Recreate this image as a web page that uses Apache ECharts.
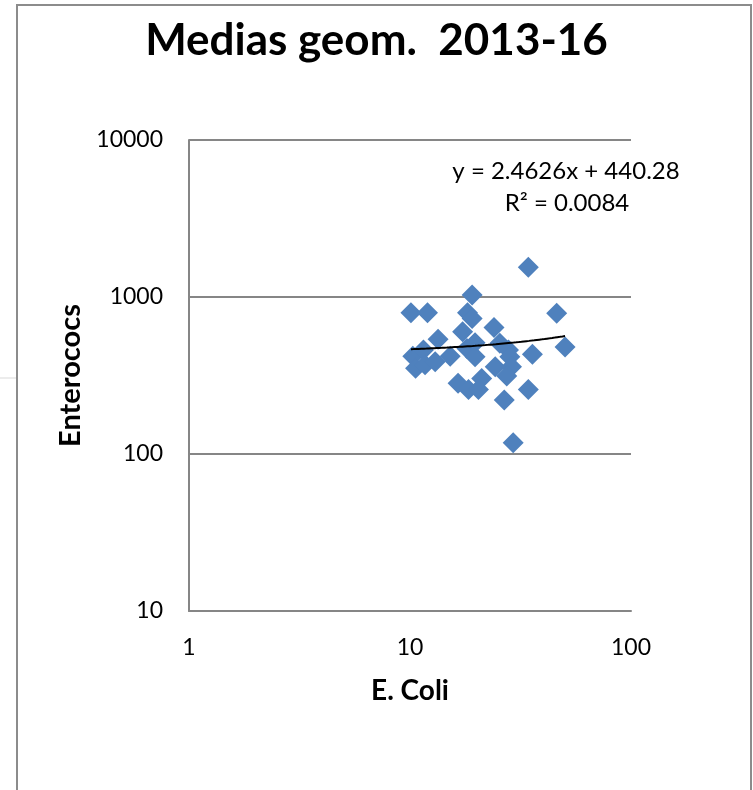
<!DOCTYPE html>
<html>
<head>
<meta charset="utf-8">
<script src="https://cdn.jsdelivr.net/npm/echarts@6/dist/echarts.min.js"></script>
<style>
  html, body { margin: 0; padding: 0; background: #ffffff; }
  #chart { width: 753px; height: 790px; }
</style>
</head>
<body>
<div id="chart"></div>
<script>
// Geometric means per site, 2013-16: E. coli (x) vs enterococci (y)
const eColi = [
  34.3, 19.1, 10.1, 12.0, 46.1, 18.2, 19.1, 17.3, 24.0, 13.4,
  50.3, 35.8, 10.3, 11.5, 10.6, 11.7, 13.0, 15.2, 18.1, 19.7,
  19.7, 25.5, 27.9, 28.3, 28.8, 24.3, 27.4, 21.1, 16.5, 18.4,
  20.4, 34.3, 26.7, 29.3
];
const enterococs = [
  1546, 1030, 795, 795, 787, 795, 730, 600, 640, 538,
  480, 432, 420, 460, 352, 370, 387, 420, 470, 512,
  417, 507, 459, 417, 360, 360, 314, 303, 282, 258,
  258, 258, 221, 118
];

// Linear trendline as reported: y = 2.4626x + 440.28, R² = 0.0084
const trendSlope = 2.4626;
const trendIntercept = 440.28;
const trendLabel = 'y = 2.4626x + 440.28';
const r2Label = 'R² = 0.0084';

const xTicks = [1, 10, 100];
const yTicks = [10, 100, 1000, 10000];

const FONT = 'Lato, "Open Sans", sans-serif';

const points = eColi.map((x, i) => [x, enterococs[i]]);

// Sample the straight trendline across the data's x-range (curved on log axes)
const xMin = Math.min(...eColi);
const xMax = Math.max(...eColi);
const trend = [];
const steps = 60;
for (let i = 0; i <= steps; i++) {
  const x = Math.pow(10, Math.log10(xMin) + (Math.log10(xMax) - Math.log10(xMin)) * i / steps);
  trend.push([x, trendSlope * x + trendIntercept]);
}

const chart = echarts.init(document.getElementById('chart'), null, { renderer: 'canvas' });

chart.setOption({
  backgroundColor: '#ffffff',
  animation: false,
  title: {
    text: 'Medias geom.  2013-16',
    left: 'center',
    top: 14,
    textStyle: { fontFamily: FONT, fontWeight: 'bold', fontSize: 44, color: '#000000' }
  },
  grid: { left: 189, top: 140, right: 122, bottom: 179, containLabel: false },
  xAxis: {
    type: 'log',
    logBase: 10,
    min: xTicks[0],
    max: xTicks[xTicks.length - 1],
    name: 'E. Coli',
    nameLocation: 'middle',
    nameGap: 66,
    nameTextStyle: { fontFamily: FONT, fontWeight: 'bold', fontSize: 28, color: '#000000' },
    axisLine: { show: true, lineStyle: { color: '#868686', width: 2 } },
    axisTick: { show: false },
    splitLine: { show: false },
    axisLabel: {
      margin: 25,
      fontFamily: FONT, fontSize: 23, color: '#000000',
      formatter: v => String(Math.round(v))
    }
  },
  yAxis: {
    type: 'log',
    logBase: 10,
    min: yTicks[0],
    max: yTicks[yTicks.length - 1],
    name: 'Enterococs',
    nameLocation: 'middle',
    nameGap: 103,
    nameRotate: 90,
    nameTextStyle: { fontFamily: FONT, fontWeight: 'bold', fontSize: 29, color: '#000000' },
    axisLine: { show: true, lineStyle: { color: '#868686', width: 2 } },
    axisTick: { show: false },
    splitLine: { show: true, lineStyle: { color: '#868686', width: 2 } },
    axisLabel: {
      margin: 26,
      fontFamily: FONT, fontSize: 23, color: '#000000',
      formatter: v => String(Math.round(v))
    }
  },
  series: [
    {
      type: 'scatter',
      data: points,
      symbol: 'diamond',
      symbolSize: 21,
      itemStyle: { color: '#4f81bd', opacity: 1 },
      z: 2
    },
    {
      type: 'line',
      data: trend,
      showSymbol: false,
      smooth: false,
      lineStyle: { color: '#000000', width: 2 },
      z: 3
    }
  ],
  graphic: [
    // outer chart frame
    {
      type: 'polyline',
      shape: { points: [[17, 800], [17, 5], [751, 5], [751, 800]] },
      style: { stroke: '#8c8c8c', fill: null, lineWidth: 2 },
      silent: true
    },
    {
      type: 'line',
      shape: { x1: 0, y1: 378, x2: 16, y2: 378 },
      style: { stroke: '#d9d9d9', lineWidth: 1 },
      silent: true
    },
    {
      type: 'text',
      x: 566, y: 171,
      style: {
        text: trendLabel, fontFamily: FONT, fontSize: 24, fill: '#000000',
        textAlign: 'center', textVerticalAlign: 'middle'
      }
    },
    {
      type: 'text',
      x: 567, y: 203,
      style: {
        text: r2Label, fontFamily: FONT, fontSize: 24, fill: '#000000',
        textAlign: 'center', textVerticalAlign: 'middle'
      }
    }
  ]
});
</script>
</body>
</html>
